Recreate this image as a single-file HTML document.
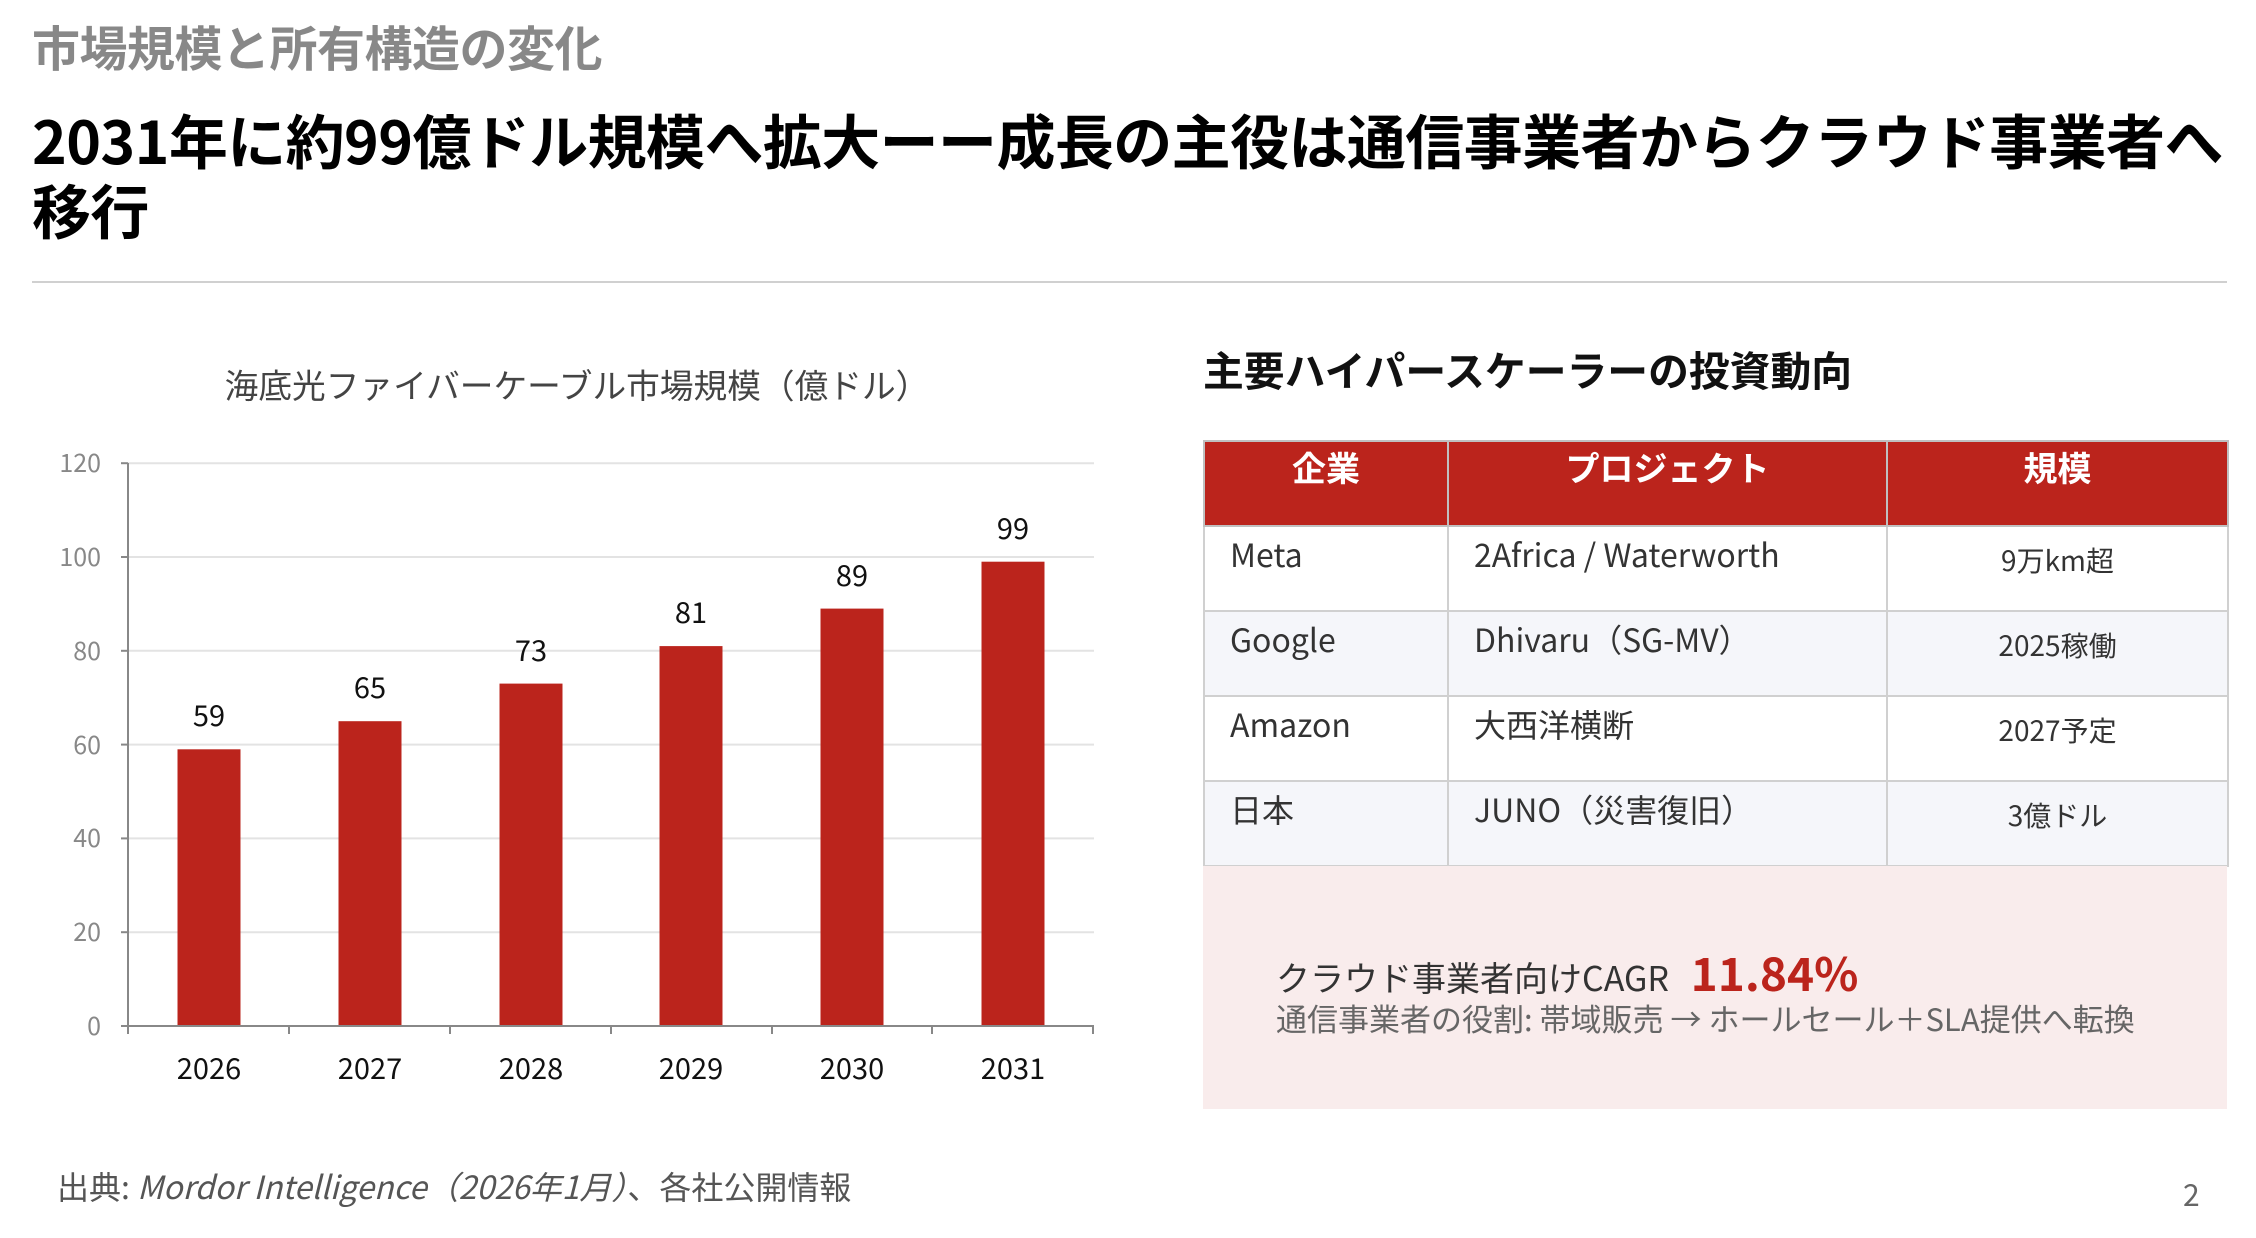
<!DOCTYPE html>
<html><head><meta charset="utf-8"><style>
body{margin:0;width:2256px;height:1238px;background:#fff;position:relative;overflow:hidden;font-family:"Noto Sans CJK JP","Liberation Sans",sans-serif}
.a{position:absolute;white-space:nowrap}
table{position:absolute;left:1203px;top:440px;width:1024px;border-collapse:collapse;table-layout:fixed}
td,th{border:2px solid #d0d0d0;vertical-align:top;padding:0 0 0 25px;font-size:32px;color:#333;font-weight:normal;height:85px;box-sizing:border-box;line-height:42px;padding-top:6px}
th{background:#bb241c;color:#fff;font-weight:bold;font-size:34px;text-align:center;padding:0;padding-top:4px;border-color:#c0c0c0}
td.c{text-align:center;padding:0;padding-top:12px;font-size:28px}
tr.g td{background:#f5f6fa}
</style></head><body>
<div class="a" style="left:32px;top:14px;font-size:48px;font-weight:bold;color:#888;line-height:62px;letter-spacing:-0.5px">市場規模と所有構造の変化</div>
<div class="a" style="left:32px;top:104px;font-size:59px;font-weight:bold;color:#000;line-height:70px;letter-spacing:-0.6px">2031年に約99億ドル規模へ拡大ーー成長の主役は通信事業者からクラウド事業者へ<br>移行</div>
<div class="a" style="left:32px;top:281px;width:2195px;height:2px;background:#d0d0d0"></div>

<svg class="a" style="left:0;top:0" width="1150" height="1238" font-family="Noto Sans CJK JP,Liberation Sans,sans-serif">
<text x="577" y="398" font-size="33.7" fill="#444" text-anchor="middle">海底光ファイバーケーブル市場規模（億ドル）</text>
<g stroke="#e3e3e3" stroke-width="2">
<line x1="128" x2="1094" y1="463.2" y2="463.2"/><line x1="128" x2="1094" y1="557" y2="557"/><line x1="128" x2="1094" y1="650.8" y2="650.8"/><line x1="128" x2="1094" y1="744.6" y2="744.6"/><line x1="128" x2="1094" y1="838.4" y2="838.4"/><line x1="128" x2="1094" y1="932.2" y2="932.2"/>
</g>
<g fill="#bb241c">
<rect x="177.5" y="749.3" width="63" height="276.7"/><rect x="338.5" y="721.2" width="63" height="304.8"/><rect x="499.5" y="683.6" width="63" height="342.4"/><rect x="659.5" y="646.1" width="63" height="379.9"/><rect x="820.5" y="608.6" width="63" height="417.4"/><rect x="981.5" y="561.7" width="63" height="464.3"/>
</g>
<g stroke="#888" stroke-width="2">
<line x1="128" x2="128" y1="463" y2="1026"/><line x1="128" x2="1094" y1="1026" y2="1026"/>
<line x1="121" x2="128" y1="463.2" y2="463.2"/><line x1="121" x2="128" y1="557" y2="557"/><line x1="121" x2="128" y1="650.8" y2="650.8"/><line x1="121" x2="128" y1="744.6" y2="744.6"/><line x1="121" x2="128" y1="838.4" y2="838.4"/><line x1="121" x2="128" y1="932.2" y2="932.2"/><line x1="121" x2="128" y1="1026" y2="1026"/>
<line x1="128" x2="128" y1="1026" y2="1034"/><line x1="289" x2="289" y1="1026" y2="1034"/><line x1="450" x2="450" y1="1026" y2="1034"/><line x1="611" x2="611" y1="1026" y2="1034"/><line x1="772" x2="772" y1="1026" y2="1034"/><line x1="932" x2="932" y1="1026" y2="1034"/><line x1="1093" x2="1093" y1="1026" y2="1034"/>
</g>
<g font-size="25" fill="#888" text-anchor="end">
<text x="101" y="472">120</text><text x="101" y="566">100</text><text x="101" y="660">80</text><text x="101" y="754">60</text><text x="101" y="847">40</text><text x="101" y="941">20</text><text x="101" y="1035">0</text>
</g>
<g font-size="29" fill="#111" text-anchor="middle">
<text x="209" y="1079">2026</text><text x="370" y="1079">2027</text><text x="531" y="1079">2028</text><text x="691" y="1079">2029</text><text x="852" y="1079">2030</text><text x="1013" y="1079">2031</text>
<text x="209" y="726">59</text><text x="370" y="698">65</text><text x="531" y="661">73</text><text x="691" y="623">81</text><text x="852" y="586">89</text><text x="1013" y="539">99</text>
</g>
</svg>

<div class="a" style="left:57px;top:1164px;font-size:32px;color:#555;line-height:44px">出典: <i>Mordor Intelligence（2026年1月）</i>、各社公開情報</div>
<div class="a" style="left:2183px;top:1172px;font-size:30px;color:#666;line-height:42px">2</div>

<div class="a" style="left:1203px;top:340px;font-size:40.8px;font-weight:bold;color:#111;line-height:58px">主要ハイパースケーラーの投資動向</div>
<table>
<colgroup><col style="width:244px"><col style="width:439px"><col style="width:341px"></colgroup>
<tr><th>企業</th><th>プロジェクト</th><th>規模</th></tr>
<tr><td>Meta</td><td>2Africa / Waterworth</td><td class="c">9万km超</td></tr>
<tr class="g"><td>Google</td><td>Dhivaru（SG-MV）</td><td class="c">2025稼働</td></tr>
<tr><td>Amazon</td><td>大西洋横断</td><td class="c">2027予定</td></tr>
<tr class="g"><td>日本</td><td>JUNO（災害復旧）</td><td class="c">3億ドル</td></tr>
</table>
<div class="a" style="left:1203px;top:866px;width:1024px;height:243px;background:#f9ecec"></div>
<div class="a" style="left:1276px;top:945px;font-size:34px;color:#333;line-height:54px">クラウド事業者向けCAGR <span style="color:#bb241c;font-weight:bold;font-size:46px;margin-left:14px">11.84%</span></div>
<div class="a" style="left:1276px;top:996px;font-size:31px;color:#666;line-height:44px">通信事業者の役割: 帯域販売 → ホールセール＋SLA提供へ転換</div>
</body></html>
